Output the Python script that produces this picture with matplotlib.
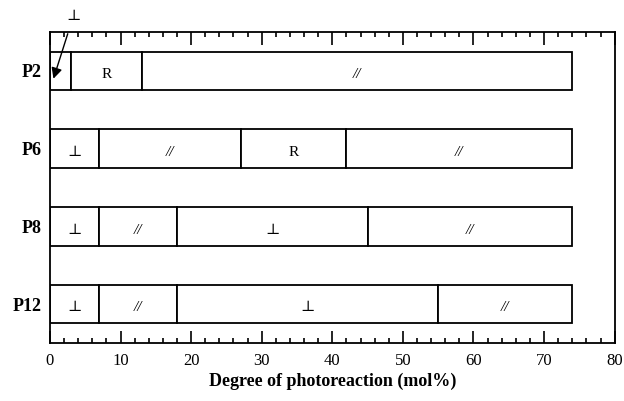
import matplotlib.pyplot as plt
from matplotlib.ticker import MultipleLocator

plt.rcParams['font.family'] = ['Liberation Serif', 'DejaVu Serif']

samples = ['P2', 'P6', 'P8', 'P12']
# segment boundaries (mol%) and the orientation label of each segment
bounds = [
    [0, 3, 13, 74],
    [0, 7, 27, 42, 74],
    [0, 7, 18, 45, 74],
    [0, 7, 18, 55, 74],
]
labels = [
    ['', 'R', '//'],
    ['\u22a5', '//', 'R', '//'],
    ['\u22a5', '//', '\u22a5', '//'],
    ['\u22a5', '//', '\u22a5', '//'],
]

fig, ax = plt.subplots(figsize=(6.24, 4.01), dpi=100)
fig.subplots_adjust(left=0.08, right=0.985, top=0.92, bottom=0.145)

for i, (b, labs) in enumerate(zip(bounds, labels)):
    for left, right, lab in zip(b[:-1], b[1:], labs):
        ax.barh(i, right - left, left=left, height=0.5, color='white',
                edgecolor='black', linewidth=1.3)
        if lab:
            style = 'italic' if lab == '//' else 'normal'
            ax.text((left + right) / 2, i + 0.05, lab, ha='center', va='center',
                    fontsize=11, fontstyle=style)

# thin first segment of P2 labelled from outside
ax.annotate('\u22a5', xy=(0.5, 0.1), xytext=(3.3, -0.7),
            ha='center', va='center', fontsize=11, annotation_clip=False,
            arrowprops=dict(arrowstyle='-|>', color='black', lw=1.0,
                            mutation_scale=16, shrinkA=6, shrinkB=0))

ax.set_xlim(0, 80)
ax.set_ylim(3.5, -0.5)
ax.set_yticks(range(len(samples)))
ax.set_yticklabels(samples, fontsize=13, fontweight='bold')
ax.tick_params(axis='y', length=0, pad=6)

ax.xaxis.set_major_locator(MultipleLocator(10))
ax.xaxis.set_minor_locator(MultipleLocator(2))
ax.tick_params(axis='x', which='both', direction='in', top=True, labelsize=12,
               width=1.2, pad=7)
ax.tick_params(axis='x', which='major', length=9)
ax.tick_params(axis='x', which='minor', length=3.5)
ax.set_xlabel('Degree of photoreaction (mol%)', fontsize=13, fontweight='bold',
              labelpad=3)

for s in ax.spines.values():
    s.set_linewidth(1.3)

fig.savefig('out.png', dpi=100)
